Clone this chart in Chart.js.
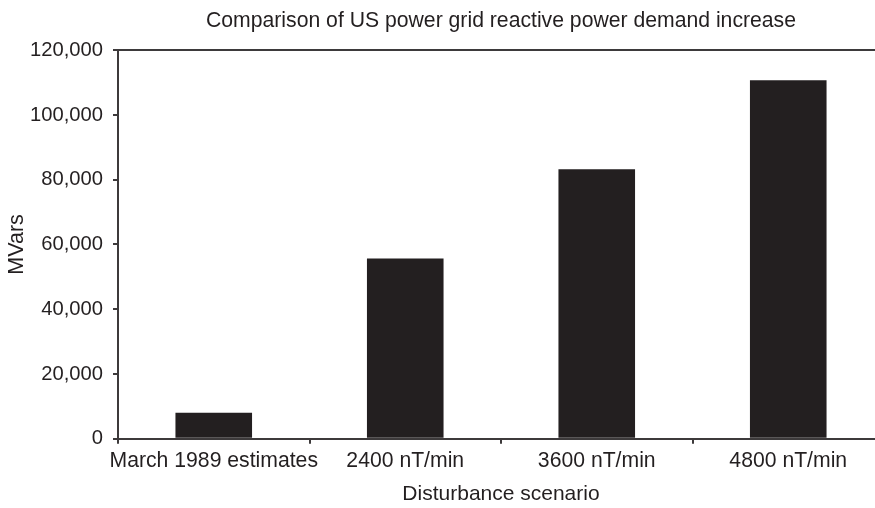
<!DOCTYPE html>
<html>
<head>
<meta charset="utf-8">
<title>US power grid reactive power demand</title>
<script src="https://cdn.jsdelivr.net/npm/chart.js@4.4.1/dist/chart.umd.min.js"></script>
<style>
  html, body { margin: 0; padding: 0; background: #fff; overflow: hidden; }
  #frame { width: 875px; height: 508px; overflow: hidden; position: relative; }
  canvas { display: block; }
</style>
</head>
<body>
<div id="frame">
  <canvas id="chart" width="885" height="508"></canvas>
</div>
<script>
// Disturbance scenarios and the reactive power demand increase for each (MVars)
const categories = ['March 1989 estimates', '2400 nT/min', '3600 nT/min', '4800 nT/min'];
const demandMVars = [8000, 55700, 83200, 110700];

// Value axis ticks
const yMin = 0;
const yMax = 120000;
const yStep = 20000;

const ink = '#231f20';
const axisInk = '#3d3a3b';
const fontFamily = '"Liberation Sans", Arial, Helvetica, sans-serif';

new Chart(document.getElementById('chart'), {
  type: 'bar',
  data: {
    labels: categories,
    datasets: [{
      data: demandMVars,
      backgroundColor: ink,
      borderWidth: 0,
      barPercentage: 0.4,
      categoryPercentage: 1.0
    }]
  },
  options: {
    responsive: false,
    animation: false,
    layout: { padding: { left: 4, right: 1, top: 0, bottom: 0 } },
    plugins: {
      legend: { display: false },
      tooltip: { enabled: false },
      title: {
        display: true,
        text: 'Comparison of US power grid reactive power demand increase',
        fullSize: false,
        color: ink,
        font: { family: fontFamily, size: 21.2, weight: 'normal' },
        padding: { top: 8.1, bottom: 16.7 }
      }
    },
    scales: {
      x: {
        offset: true,
        border: { display: true, color: axisInk, width: 2 },
        grid: {
          offset: true,
          drawOnChartArea: false,
          drawTicks: true,
          tickLength: 5,
          tickColor: axisInk,
          lineWidth: 2
        },
        ticks: {
          color: ink,
          font: { family: fontFamily, size: 21.2 },
          padding: 5,
          maxRotation: 0,
          autoSkip: false
        },
        title: {
          display: true,
          text: 'Disturbance scenario',
          color: ink,
          font: { family: fontFamily, size: 21 },
          padding: { top: 2, bottom: 1.5 }
        },
        afterFit: (scale) => { scale.height = 69.3; }
      },
      y: {
        min: yMin,
        max: yMax,
        border: { display: true, color: axisInk, width: 2 },
        grid: {
          drawTicks: true,
          tickLength: 5,
          tickColor: axisInk,
          lineWidth: 2,
          color: (ctx) => (ctx.tick && ctx.tick.value === yMax ? axisInk : 'rgba(0,0,0,0)')
        },
        ticks: {
          stepSize: yStep,
          color: ink,
          font: { family: fontFamily, size: 20.2 },
          padding: 10,
          callback: (v) => Number(v).toLocaleString('en-US')
        },
        title: {
          display: true,
          text: 'MVars',
          color: ink,
          font: { family: fontFamily, size: 21.5 },
          padding: { top: 0, bottom: 0 }
        },
        afterFit: (scale) => { scale.width = 114; }
      }
    }
  }
});
</script>
</body>
</html>
